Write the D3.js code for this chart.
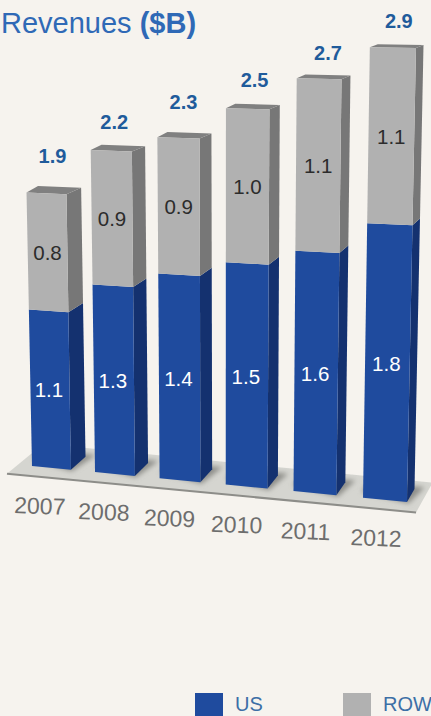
<!DOCTYPE html>
<html>
<head>
<meta charset="utf-8">
<script src="https://cdn.jsdelivr.net/npm/d3@7"></script>
<style>
  html, body { margin: 0; padding: 0; background: #f6f3ee; overflow: hidden; }
  svg { display: block; font-family: "Liberation Sans", Arial, sans-serif; }
</style>
</head>
<body>
<svg id="chart" width="431" height="716"></svg>
<script>
const years = ["2007", "2008", "2009", "2010", "2011", "2012"];
const usValues = [1.1, 1.3, 1.4, 1.5, 1.6, 1.8];
const rowValues = [0.8, 0.9, 0.9, 1.0, 1.1, 1.1];
const totals = [1.9, 2.2, 2.3, 2.5, 2.7, 2.9];
const seriesNames = ["US", "ROW"];

// Hand placement of the total labels relative to their box tops
const totalNudgeX = [1, -2, 0, 2, 4, 1];
const totalNudgeY = [-8, 0, -7, 0, 3, 2];

const W = 431, H = 716;
const svg = d3.select("#chart");

// Scales in the plane of the bar fronts, both normalised to 0..1
const uScale = d3.scaleBand().domain(years).range([0, 1]).paddingInner(0.38).paddingOuter(0);
const vScale = d3.scaleLinear().domain([0, 2.9]).range([0, 1]);

// Perspective map from the unit square to the tilted front plane
const quad = [[32, 466], [407, 502], [416, 48], [23.5, 42]];
const perspective = (() => {
  const [[x0, y0], [x1, y1], [x2, y2], [x3, y3]] = quad;
  const sx = x0 - x1 + x2 - x3, sy = y0 - y1 + y2 - y3;
  const dx1 = x1 - x2, dx2 = x3 - x2, dy1 = y1 - y2, dy2 = y3 - y2;
  const den = dx1 * dy2 - dx2 * dy1;
  const g = (sx * dy2 - dx2 * sy) / den, h = (dx1 * sy - sx * dy1) / den;
  const a = x1 - x0 + g * x1, b = x3 - x0 + h * x3;
  const d = y1 - y0 + g * y1, e = y3 - y0 + h * y3;
  return (u, v) => {
    const w = g * u + h * v + 1;
    return [(a * u + b * v + x0) / w, (d * u + e * v + y0) / w];
  };
})();

// Depth vector of the boxes: narrows to the right, flattens with height
const depthX = d3.scaleLinear().domain([0, 1]).range([15.5, 7.5]);
const depthY = d3.scaleLinear().domain([0, 2.9]).range([-13, -3]);

function project(u, value, depth = 0) {
  const [x, y] = perspective(u, vScale(value));
  return [x + depth * depthX(u), y + depth * depthY(value)];
}

const pts = a => a.map(p => p.join(",")).join(" ");

const colors = {
  bg: "#f6f3ee",
  floor: "#d5d5d0",
  floorEdge: "#8d8d89",
  floorShadow: "#8f8f8a",
  usFront: "#1f4b9e",
  usSide: "#14316f",
  rowFront: "#b1b1b1",
  rowSide: "#777777",
  rowTop: "#808080",
  title: "#2f69b6",
  total: "#1f5b9b",
  year: "#6d6d6d",
  legendText: "#3d6fa6"
};

svg.append("rect").attr("width", W).attr("height", H).attr("fill", colors.bg);

const defs = svg.append("defs");
defs.append("filter").attr("id", "soft")
  .attr("x", "-30%").attr("y", "-30%").attr("width", "160%").attr("height", "160%")
  .append("feGaussianBlur").attr("stdDeviation", 2.5);

// Floor slab
const floorCorners = [
  project(-0.04, 0, -0.7), project(1.035, 0, -0.7),
  project(1.035, 0, 1.6), project(-0.04, 0, 1.6)
];
svg.append("polygon").attr("points", pts(floorCorners)).attr("fill", colors.floor);
svg.append("line")
  .attr("x1", floorCorners[0][0]).attr("y1", floorCorners[0][1])
  .attr("x2", floorCorners[1][0]).attr("y2", floorCorners[1][1])
  .attr("stroke", colors.floorEdge).attr("stroke-width", 2);

const bars = years.map((year, i) => {
  const u0 = uScale(year), u1 = u0 + uScale.bandwidth();
  return { year, i, u0, u1, um: (u0 + u1) / 2, us: usValues[i], row: rowValues[i], total: totals[i] };
});

// Contact shadows on the floor
svg.append("g").attr("filter", "url(#soft)").selectAll("polygon")
  .data(bars).join("polygon")
  .attr("points", d => pts([
    project(d.u0 - 0.012, 0, 0.4), project(d.u1 + 0.006, 0, -0.1),
    project(d.u1 + 0.022, 0, 1.2), project(d.u0 - 0.012, 0, 1.2)
  ]))
  .attr("fill", colors.floorShadow);

// Boxes
const bar = svg.append("g").selectAll("g").data(bars).join("g");

bar.append("polygon")
  .attr("points", d => pts([project(d.u1, 0), project(d.u1, 0, 1), project(d.u1, d.us, 1), project(d.u1, d.us)]))
  .attr("fill", colors.usSide);
bar.append("polygon")
  .attr("points", d => pts([project(d.u1, d.us), project(d.u1, d.us, 1), project(d.u1, d.total, 1), project(d.u1, d.total)]))
  .attr("fill", colors.rowSide);
bar.append("polygon")
  .attr("points", d => {
    // the far edge of the lid sits a little left of the plain depth offset on the left-hand boxes
    const [bx, by] = project(d.u0, d.total, 1);
    return pts([project(d.u0, d.total), project(d.u1, d.total), project(d.u1, d.total, 1), [bx - 4 * (1 - d.u0), by]]);
  })
  .attr("fill", colors.rowTop);
bar.append("polygon")
  .attr("points", d => pts([project(d.u0, 0), project(d.u1, 0), project(d.u1, d.us), project(d.u0, d.us)]))
  .attr("fill", colors.usFront);
bar.append("polygon")
  .attr("points", d => pts([project(d.u0, d.us), project(d.u1, d.us), project(d.u1, d.total), project(d.u0, d.total)]))
  .attr("fill", colors.rowFront);

const fmt = d3.format(".1f");

// Segment values
bar.append("text")
  .attr("x", d => project(d.um, d.us / 2)[0] - 1)
  .attr("y", d => project(d.um, d.us / 2)[1])
  .attr("dy", "0.35em").attr("text-anchor", "middle")
  .attr("font-size", 20.5).attr("fill", "#ffffff")
  .text(d => fmt(d.us));
bar.append("text")
  .attr("x", d => project(d.um, d.us + d.row / 2)[0])
  .attr("y", d => project(d.um, d.us + d.row / 2)[1])
  .attr("dy", "0.35em").attr("text-anchor", "middle")
  .attr("font-size", 20.5).attr("fill", "#2c2c2c")
  .text(d => fmt(d.row));

// Totals above the boxes
bar.append("text")
  .attr("x", d => project(d.um, d.total)[0] + 5 + totalNudgeX[d.i])
  .attr("y", d => project(d.um, d.total)[1] - 29 + totalNudgeY[d.i])
  .attr("dy", "0.35em").attr("text-anchor", "middle")
  .attr("font-size", 20).attr("font-weight", "bold").attr("fill", colors.total)
  .text(d => fmt(d.total));

// Year labels follow the floor's front edge
bar.append("text")
  .attr("transform", d => {
    const [x, y] = project(d.um, 0);
    return `translate(${x - 11.5 + 3 * d.u0},${y + 38})  rotate(2)`;
  })
  .attr("dy", "0.35em").attr("text-anchor", "middle")
  .attr("font-size", 23).attr("fill", colors.year)
  .text(d => d.year);

// Title
const title = svg.append("text").attr("x", 1).attr("y", 33)
  .attr("font-size", 29).attr("fill", colors.title);
title.append("tspan").text("Revenues ");
title.append("tspan").attr("font-weight", "bold").text("($B)");

// Legend
const legendX = d3.scalePoint().domain(seriesNames).range([195, 343]);
const legendFill = d3.scaleOrdinal().domain(seriesNames).range([colors.usFront, colors.rowFront]);
const legend = svg.append("g").selectAll("g").data(seriesNames).join("g")
  .attr("transform", d => `translate(${legendX(d)},693)`);
legend.append("rect").attr("width", 28).attr("height", 23).attr("fill", d => legendFill(d));
legend.append("text").attr("x", 40).attr("y", 18)
  .attr("font-size", 20).attr("fill", colors.legendText).text(d => d);
</script>
</body>
</html>
